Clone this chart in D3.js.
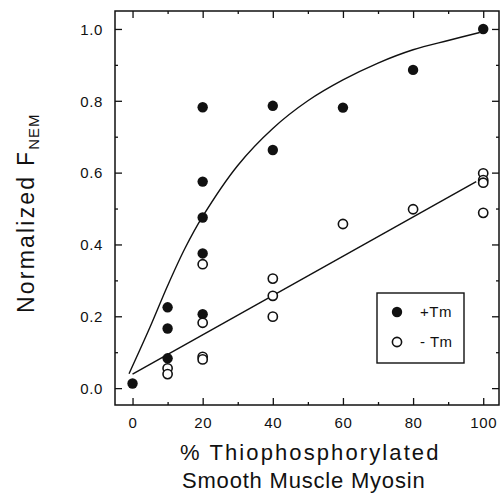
<!DOCTYPE html>
<html>
<head>
<meta charset="utf-8">
<script src="https://cdn.jsdelivr.net/npm/d3@7"></script>
<style>
  body { margin: 0; background: #fff; }
  text { font-family: "Liberation Sans", Arial, sans-serif; fill: #111; }
</style>
</head>
<body>
<svg width="504" height="494"></svg>
<script>
// +Tm (filled) and -Tm (open) measurements
const plusTmX = [0, 10, 10, 10, 20, 20, 20, 20, 20, 40, 40, 60, 80, 100]
const plusTmY = [0.013, 0.225, 0.166, 0.083, 0.782, 0.575, 0.475, 0.375, 0.206, 0.786, 0.663, 0.781, 0.886, 1.0]
const minusTmX = [10, 10, 20, 20, 20, 20, 40, 40, 40, 60, 80, 100, 100, 100, 100]
const minusTmY = [0.055, 0.039, 0.345, 0.182, 0.087, 0.08, 0.305, 0.257, 0.199, 0.457, 0.498, 0.598, 0.579, 0.572, 0.488]

// fitted curves as drawn in the figure
const plusFitX = [-1, 5, 10, 15, 20, 30, 40, 50, 60, 70, 80, 90, 99]
const plusFitY = [0.04, 0.17, 0.285, 0.39, 0.478, 0.62, 0.723, 0.8, 0.858, 0.905, 0.942, 0.968, 0.99]
const minusFitX = [0, 98]
const minusFitY = [0.039, 0.575]

const xMajor = [0, 20, 40, 60, 80, 100]
const xMinor = [10, 30, 50, 70, 90]
const yMajor = [0, 0.2, 0.4, 0.6, 0.8, 1.0]
const yMinor = [0.1, 0.3, 0.5, 0.7, 0.9]

const plotLeft = 115, plotRight = 499, plotTop = 11, plotBottom = 405

const svg = d3.select('svg')

const x = d3.scaleLinear().domain([-5, 104.5]).range([plotLeft, plotRight])
const y = d3.scaleLinear().domain([-0.047, 1.05]).range([plotBottom, plotTop])

// frame
svg.append('rect')
  .attr('x', plotLeft).attr('y', plotTop)
  .attr('width', plotRight - plotLeft).attr('height', plotBottom - plotTop)
  .attr('fill', 'none').attr('stroke', '#111').attr('stroke-width', 1.5)

function ticks(axis, vals, size, labels) {
  return axis.tickValues(vals).tickSize(-size).tickSizeOuter(0)
    .tickFormat(labels ? labels : () => '')
}

const g1 = svg.append('g').attr('transform', `translate(0,${plotBottom})`)
  .call(ticks(d3.axisBottom(x), xMajor, 7, d => d3.format('d')(d)))
const g2 = svg.append('g').attr('transform', `translate(0,${plotBottom})`)
  .call(ticks(d3.axisBottom(x), xMinor, 3))
const g3 = svg.append('g').attr('transform', `translate(0,${plotTop})`)
  .call(ticks(d3.axisTop(x), xMajor, 7))
const g4 = svg.append('g').attr('transform', `translate(0,${plotTop})`)
  .call(ticks(d3.axisTop(x), xMinor, 3))
const g5 = svg.append('g').attr('transform', `translate(${plotLeft},0)`)
  .call(ticks(d3.axisLeft(y), yMajor, 7, d => d3.format('.1f')(d)))
const g6 = svg.append('g').attr('transform', `translate(${plotLeft},0)`)
  .call(ticks(d3.axisLeft(y), yMinor, 3))
const g7 = svg.append('g').attr('transform', `translate(${plotRight},0)`)
  .call(ticks(d3.axisRight(y), yMajor, 7))
const g8 = svg.append('g').attr('transform', `translate(${plotRight},0)`)
  .call(ticks(d3.axisRight(y), yMinor, 3))

;[g1, g2, g3, g4, g5, g6, g7, g8].forEach(g => {
  g.select('.domain').remove()
  g.selectAll('line').attr('stroke', '#111').attr('stroke-width', 1.3)
  g.selectAll('text').attr('font-size', 15).attr('letter-spacing', 0.6)
    .attr('fill', '#111').style('font-family', '"Liberation Sans", Arial, sans-serif')
})
g1.selectAll('text').attr('dy', null).attr('y', 23)
g5.selectAll('text').attr('x', -12).attr('dy', '0.35em')

// fit lines
svg.append('path')
  .datum(plusFitX.map((v, i) => [v, plusFitY[i]]))
  .attr('d', d3.line().x(d => x(d[0])).y(d => y(d[1])).curve(d3.curveCatmullRom.alpha(0.5)))
  .attr('fill', 'none').attr('stroke', '#111').attr('stroke-width', 1.4)
svg.append('path')
  .datum(minusFitX.map((v, i) => [v, minusFitY[i]]))
  .attr('d', d3.line().x(d => x(d[0])).y(d => y(d[1])))
  .attr('fill', 'none').attr('stroke', '#111').attr('stroke-width', 1.4)

// points
svg.selectAll('.plus')
  .data(plusTmX.map((v, i) => [v, plusTmY[i]]))
  .enter().append('circle')
  .attr('class', 'plus')
  .attr('cx', d => x(d[0])).attr('cy', d => y(d[1]))
  .attr('r', 5.2).attr('fill', '#111')
svg.selectAll('.minus')
  .data(minusTmX.map((v, i) => [v, minusTmY[i]]))
  .enter().append('circle')
  .attr('class', 'minus')
  .attr('cx', d => x(d[0])).attr('cy', d => y(d[1]))
  .attr('r', 4.6).attr('fill', '#fff').attr('stroke', '#111').attr('stroke-width', 1.6)

// legend
const lg = svg.append('g')
lg.append('rect').attr('x', 377).attr('y', 293).attr('width', 87).attr('height', 70)
  .attr('fill', '#fff').attr('stroke', '#111').attr('stroke-width', 1.4)
lg.append('circle').attr('cx', 397).attr('cy', 312).attr('r', 5.2).attr('fill', '#111')
lg.append('circle').attr('cx', 397).attr('cy', 342).attr('r', 4.6)
  .attr('fill', '#fff').attr('stroke', '#111').attr('stroke-width', 1.6)
lg.append('text').attr('x', 420).attr('y', 317).attr('font-size', 15).attr('letter-spacing', 0.5).text('+Tm')
lg.append('text').attr('x', 420).attr('y', 347).attr('font-size', 15).attr('letter-spacing', 0.5).text('- Tm')

// axis titles
const xt = svg.append('text').attr('font-size', 22)
xt.append('tspan').attr('x', 180).attr('y', 460).attr('letter-spacing', 2.1).text('% Thiophosphorylated')
xt.append('tspan').attr('x', 182).attr('y', 488).attr('letter-spacing', 0.8).text('Smooth Muscle Myosin')

const yt = svg.append('text')
  .attr('transform', 'translate(34,313) rotate(-90)')
  .attr('font-size', 23).attr('letter-spacing', 2.2)
yt.append('tspan').text('Normalized F')
yt.append('tspan').attr('font-size', 15).attr('dy', 5).attr('letter-spacing', 1).text('NEM')
</script>
</body>
</html>
